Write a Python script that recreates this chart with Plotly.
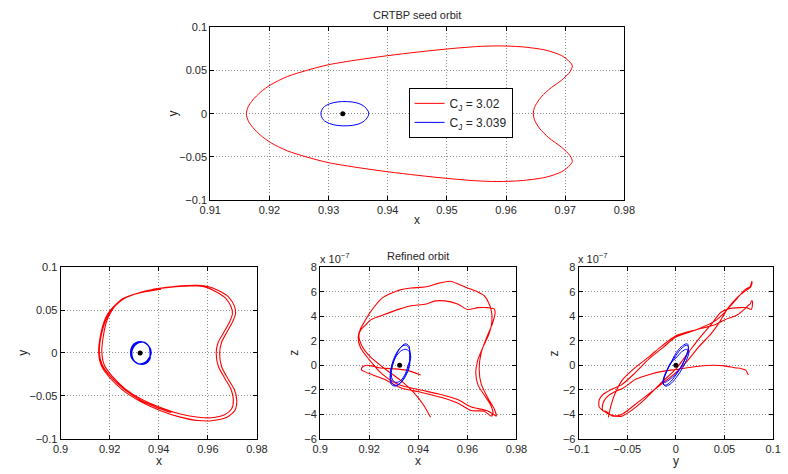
import plotly.graph_objects as go

# ---------------- data ----------------
# CRTBP seed orbits (top panel)
seed_red_x = [0.9161, 0.9164, 0.9172, 0.9185, 0.9202, 0.9230, 0.9262, 0.9300, 0.9350, 0.9400, 0.9450, 0.9500,
              0.9550, 0.9585, 0.9625, 0.9667, 0.9694, 0.9708, 0.9712, 0.9708, 0.9694, 0.9672, 0.9656, 0.9648,
              0.9646,
              0.9648, 0.9656, 0.9672, 0.9694, 0.9708, 0.9712, 0.9708, 0.9694, 0.9667, 0.9625, 0.9585, 0.9550,
              0.9500, 0.9450, 0.9400, 0.9350, 0.9300, 0.9262, 0.9230, 0.9202, 0.9185, 0.9172, 0.9164, 0.9161]
seed_red_y = [0.0000, 0.0080, 0.0160, 0.0250, 0.0335, 0.0430, 0.0500, 0.0568, 0.0625, 0.0673, 0.0714, 0.0750,
              0.0778, 0.0786, 0.0776, 0.0737, 0.0673, 0.0598, 0.0553, 0.0485, 0.0390, 0.0278, 0.0165, 0.0071,
              0.0000,
              -0.0071, -0.0165, -0.0278, -0.0390, -0.0485, -0.0553, -0.0598, -0.0673, -0.0737, -0.0776, -0.0786,
              -0.0778, -0.0750, -0.0714, -0.0673, -0.0625, -0.0568, -0.0500, -0.0430, -0.0335, -0.0250, -0.0160,
              -0.0080, 0.0000]
seed_blue_x = [0.9287, 0.9291, 0.9302, 0.9316, 0.9332, 0.9348, 0.9361, 0.9368, 0.9361, 0.9348, 0.9332, 0.9316,
               0.9302, 0.9291, 0.9287]
seed_blue_y = [0.0000, 0.0070, 0.0115, 0.0137, 0.0140, 0.0125, 0.0080, 0.0000, -0.0080, -0.0125, -0.0140, -0.0137,
               -0.0115, -0.0070, 0.0000]
legend_names = ["C<sub>J</sub> = 3.02", "C<sub>J</sub> = 3.039"]

# primary body (black dot)
body_x = [0.9324]
body_y = [0.0]
body_z = [0.0]

# refined orbit, C_J = 3.02 (x, y, z in units of 1e-7)
ref_red_x = [0.9410, 0.9350, 0.9290, 0.9240, 0.9210, 0.9190, 0.9175, 0.9168, 0.9178, 0.9210, 0.9262, 0.9330,
             0.9410, 0.9488, 0.9562, 0.9615, 0.9668, 0.9697, 0.9704, 0.9694, 0.9671, 0.9643, 0.9634, 0.9642,
             0.9664, 0.9689, 0.9700, 0.9696, 0.9672, 0.9635, 0.9595, 0.9560, 0.9530, 0.9485, 0.9432, 0.9370,
             0.9326, 0.9254, 0.9203, 0.9182, 0.9163, 0.9155, 0.9165, 0.9198, 0.9252, 0.9322, 0.9405, 0.9484,
             0.9560, 0.9616, 0.9678, 0.9710, 0.9718, 0.9708, 0.9684, 0.9656, 0.9648, 0.9656, 0.9677, 0.9702,
             0.9713, 0.9709, 0.9684, 0.9643, 0.9600, 0.9560, 0.9510, 0.9470, 0.9432, 0.9370, 0.9326, 0.9256,
             0.9206, 0.9186, 0.9166, 0.9158, 0.9170, 0.9204, 0.9258, 0.9326, 0.9380, 0.9420, 0.9450]
ref_red_y = [0.0745, 0.0718, 0.0675, 0.0605, 0.0500, 0.0390, 0.0210, 0.0000, -0.0140, -0.0270, -0.0415, -0.0540,
             -0.0640, -0.0712, -0.0750, -0.0755, -0.0720, -0.0650, -0.0545, -0.0420, -0.0305, -0.0158, 0.0000, 0.0122,
             0.0235, 0.0365, 0.0455, 0.0530, 0.0640, 0.0712, 0.0765, 0.0782, 0.0782, 0.0776, 0.0762, 0.0738,
             0.0708, 0.0635, 0.0500, 0.0400, 0.0210, 0.0000, -0.0140, -0.0280, -0.0430, -0.0560, -0.0670, -0.0745,
             -0.0788, -0.0790, -0.0750, -0.0670, -0.0555, -0.0425, -0.0310, -0.0160, 0.0000, 0.0125, 0.0240, 0.0370,
             0.0460, 0.0540, 0.0655, 0.0728, 0.0775, 0.0788, 0.0786, 0.0778, 0.0765, 0.0738, 0.0708, 0.0630,
             0.0500, 0.0400, 0.0210, 0.0000, -0.0140, -0.0275, -0.0420, -0.0550, -0.0620, -0.0665, -0.0695]
ref_red_z = [-0.80, -0.40, -0.28, -0.20, -0.05, 0.00, -0.10, -0.35, -0.50, -0.75, -1.15, -1.85,
             -2.20, -2.60, -3.10, -3.70, -3.75, -4.15, -3.95, -3.20, -2.50, -1.60, -0.60, 0.40,
             1.50, 2.60, 3.60, 4.60, 5.60, 6.05, 6.35, 6.65, 6.85, 6.70, 6.40, 6.30,
             6.15, 5.50, 4.30, 3.60, 2.90, 2.30, 1.40, 0.50, -0.70, -1.60, -2.00, -2.35,
             -2.80, -3.40, -3.70, -4.05, -4.15, -3.50, -2.70, -1.50, -0.30, 1.00, 2.20, 3.40,
             4.30, 4.60, 4.70, 4.70, 4.55, 5.00, 5.25, 5.25, 5.00, 4.85, 4.60, 4.10,
             3.70, 3.30, 2.90, 2.40, 1.60, 0.70, -0.20, -1.20, -2.20, -3.20, -4.25]

# refined orbit, C_J = 3.039
ref_blue_x = [0.9367, 0.9362, 0.9347, 0.9327, 0.9307, 0.9292, 0.9287, 0.9292, 0.9307, 0.9327, 0.9347, 0.9362,
              0.9365, 0.9361, 0.9347, 0.9328, 0.9309, 0.9295, 0.9290, 0.9295, 0.9309, 0.9328, 0.9347, 0.9361,
              0.9369, 0.9364, 0.9349, 0.9328, 0.9306, 0.9290, 0.9285, 0.9290, 0.9306, 0.9328, 0.9349, 0.9364,
              0.9366]
ref_blue_y = [0.0000, 0.0065, 0.0113, 0.0130, 0.0113, 0.0065, 0.0000, -0.0065, -0.0113, -0.0130, -0.0113, -0.0065,
              0.0006, 0.0070, 0.0117, 0.0128, 0.0106, 0.0058, -0.0006, -0.0070, -0.0117, -0.0126, -0.0106, -0.0058,
              -0.0004, 0.0060, 0.0108, 0.0133, 0.0118, 0.0070, 0.0004, -0.0060, -0.0108, -0.0133, -0.0118, -0.0070,
              0.0000]
ref_blue_z = [0.80, 1.42, 1.64, 1.43, 0.84, 0.02, -0.80, -1.42, -1.64, -1.43, -0.84, -0.02,
              1.05, 1.60, 1.75, 1.45, 0.80, -0.05, -0.75, -1.20, -1.40, -1.25, -0.70, 0.15,
              0.55, 1.10, 1.30, 1.15, 0.60, -0.20, -1.00, -1.55, -1.70, -1.45, -0.85, -0.10,
              0.80]

# tick labels
top_x_ticks = [0.91, 0.92, 0.93, 0.94, 0.95, 0.96, 0.97, 0.98]
top_x_text = ["0.91", "0.92", "0.93", "0.94", "0.95", "0.96", "0.97", "0.98"]
y_ticks = [-0.1, -0.05, 0, 0.05, 0.1]
y_text = ["\u22120.1", "\u22120.05", "0", "0.05", "0.1"]
bx_ticks = [0.9, 0.92, 0.94, 0.96, 0.98]
bx_text = ["0.9", "0.92", "0.94", "0.96", "0.98"]
z_ticks = [-6, -4, -2, 0, 2, 4, 6, 8]
z_text = ["\u22126", "\u22124", "\u22122", "0", "2", "4", "6", "8"]

RED = "#ff0000"
BLUE = "#0000ff"
W, H = 788, 474
FONT = "Liberation Sans, Arial, Helvetica, sans-serif"
TXT = "#262626"

fig = go.Figure()

# top panel
fig.add_trace(go.Scatter(x=seed_red_x, y=seed_red_y, mode="lines", name=legend_names[0],
                         line=dict(color=RED, width=1, shape="spline", smoothing=0.8), xaxis="x", yaxis="y"))
fig.add_trace(go.Scatter(x=seed_blue_x, y=seed_blue_y, mode="lines", name=legend_names[1],
                         line=dict(color=BLUE, width=1, shape="spline", smoothing=1), xaxis="x", yaxis="y"))
fig.add_trace(go.Scatter(x=body_x, y=body_y, mode="markers", showlegend=False,
                         marker=dict(color="black", size=5), xaxis="x", yaxis="y"))

# bottom panels: projections of the refined orbits
panels = [("x2", "y2", ref_red_x, ref_red_y, ref_blue_x, ref_blue_y, body_x, body_y, 1.3),
          ("x3", "y3", ref_red_x, ref_red_z, ref_blue_x, ref_blue_z, body_x, body_z, 1.0),
          ("x4", "y4", ref_red_y, ref_red_z, ref_blue_y, ref_blue_z, body_y, body_z, 1.0)]
for xa, ya, rx, ry, bx, by, dx, dy, bw in panels:
    fig.add_trace(go.Scatter(x=rx, y=ry, mode="lines", showlegend=False,
                             line=dict(color=RED, width=1.1, shape="spline", smoothing=0.7), xaxis=xa, yaxis=ya))
    fig.add_trace(go.Scatter(x=bx, y=by, mode="lines", showlegend=False,
                             line=dict(color=BLUE, width=bw, shape="spline", smoothing=1), xaxis=xa, yaxis=ya))
    fig.add_trace(go.Scatter(x=dx, y=dy, mode="markers", showlegend=False,
                             marker=dict(color="black", size=5), xaxis=xa, yaxis=ya))


def px_x(p):
    return p / W


def px_y(p):
    return 1 - p / H


def axis(rng, tv, tt, dom, anchor):
    return dict(range=rng, tickvals=tv, ticktext=tt, domain=dom, anchor=anchor,
                showline=True, linecolor="black", linewidth=1, mirror="ticks",
                ticks="inside", ticklen=4, tickcolor="black", tickwidth=1,
                showgrid=True, gridcolor="#8c8c8c", griddash="1px,2px", gridwidth=1,
                zeroline=False, tickfont=dict(family=FONT, size=11, color=TXT), fixedrange=True)


top_dom_y = [px_y(199), px_y(22)]
bot_dom_y = [px_y(444), px_y(268)]

fig.update_layout(
    width=W, height=H, margin=dict(l=0, r=0, t=0, b=0),
    paper_bgcolor="white", plot_bgcolor="white",
    font=dict(family=FONT, size=11, color=TXT),
    xaxis=axis([0.91, 0.98], top_x_ticks, top_x_text, [px_x(205), px_x(631)], "y"),
    yaxis=axis([-0.1, 0.1], y_ticks, y_text, top_dom_y, "x"),
    xaxis2=axis([0.9, 0.98], bx_ticks, bx_text, [px_x(51), px_x(253)], "y2"),
    yaxis2=axis([-0.1, 0.1], y_ticks, y_text, bot_dom_y, "x2"),
    xaxis3=axis([0.9, 0.98], bx_ticks, bx_text, [px_x(318), px_x(520)], "y3"),
    yaxis3=axis([-6, 8], z_ticks, z_text, bot_dom_y, "x3"),
    xaxis4=axis([-0.1, 0.1], y_ticks, y_text, [px_x(584), px_x(784)], "y4"),
    yaxis4=axis([-6, 8], z_ticks, z_text, bot_dom_y, "x4"),
    showlegend=True,
    legend=dict(x=px_x(409), y=px_y(84), xanchor="left", yanchor="top",
                bordercolor="black", borderwidth=1, bgcolor="white",
                font=dict(family=FONT, size=12, color=TXT), itemwidth=30,
                tracegroupgap=0),
)


def label(text, x, y, angle=0, size=12):
    fig.add_annotation(text=text, x=px_x(x), y=px_y(y), xref="paper", yref="paper",
                       showarrow=False, textangle=angle, xanchor="center", yanchor="middle",
                       font=dict(family=FONT, size=size, color=TXT))


label("CRTBP seed orbit", 418, 9, size=11)
label("Refined orbit", 419, 256, size=11)
label("y", 167, 110, angle=-90)
label("x", 418, 220)
label("y", 12, 356, angle=-90)
label("x", 152, 467)
label("z", 291, 356, angle=-90)
label("x", 419, 467)
label("z", 559, 356, angle=-90)
label("y", 684, 467)
label("x 10<sup>\u22127</sup>", 333, 259, size=11)
label("x 10<sup>\u22127</sup>", 599, 259, size=11)

fig.write_html("out.html")
